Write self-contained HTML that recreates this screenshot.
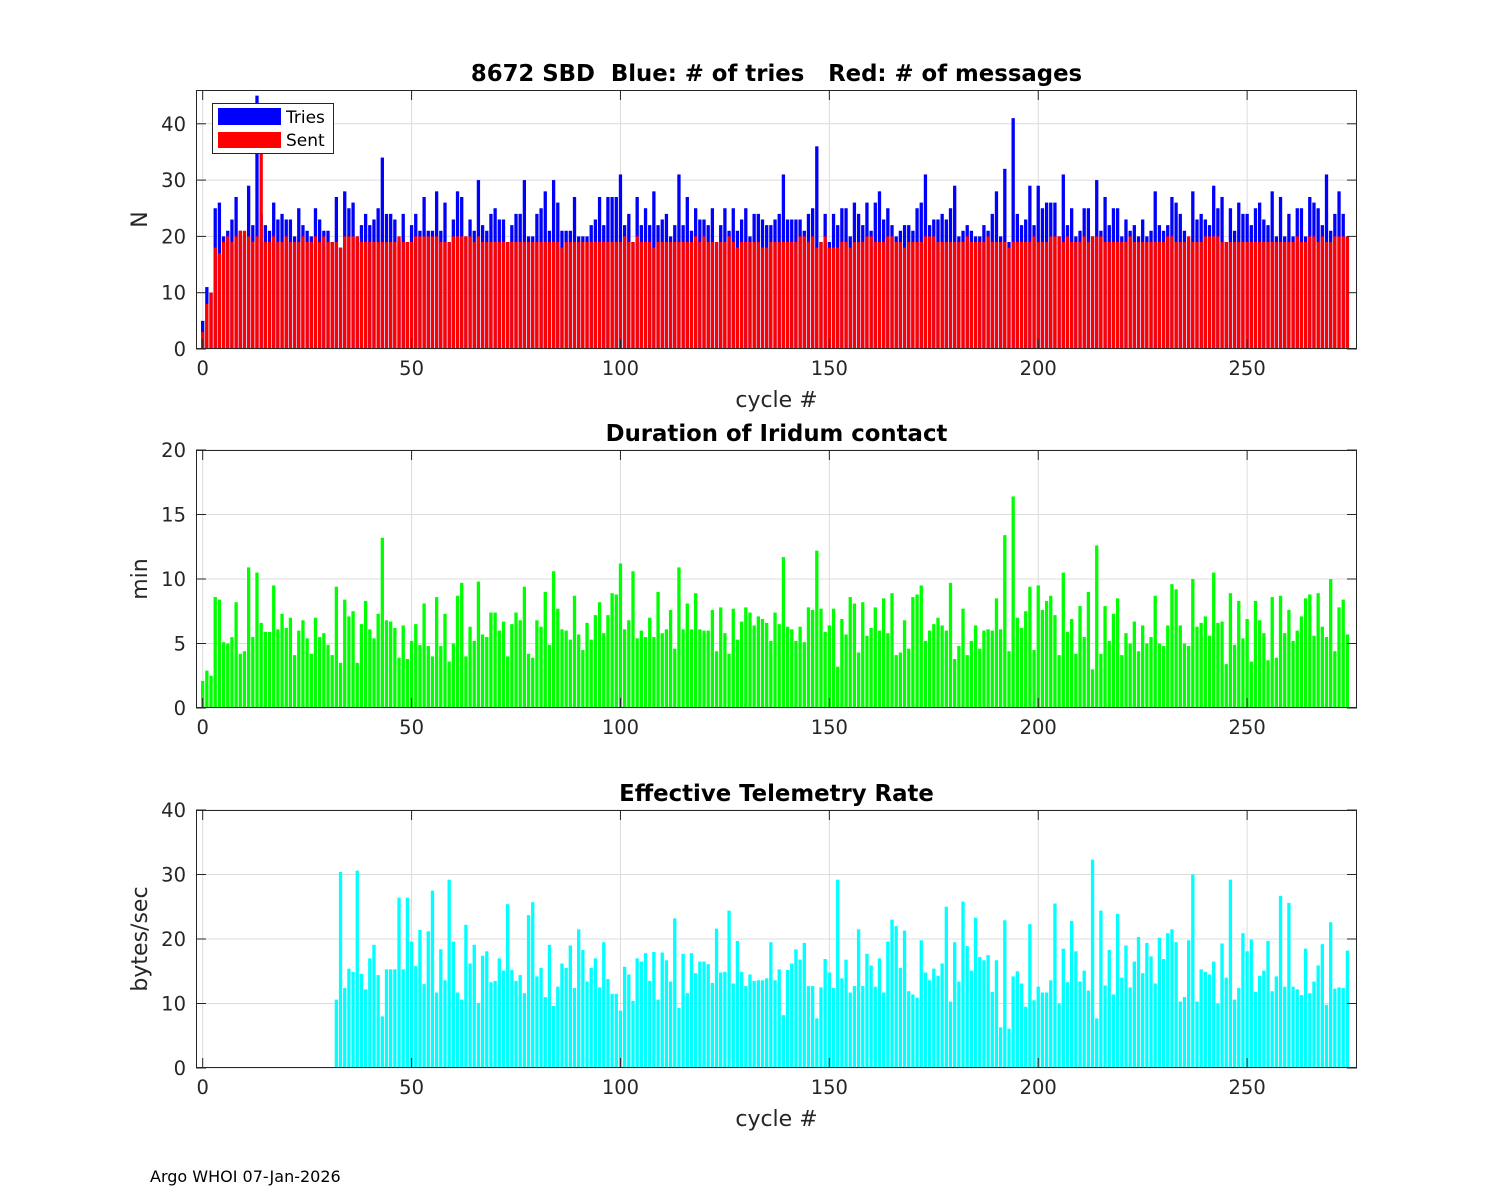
<!DOCTYPE html>
<html><head><meta charset="utf-8">
<style>
html,body{margin:0;padding:0;background:#fff;}
svg{display:block;font-family:"DejaVu Sans","Liberation Sans",sans-serif;}
</style></head>
<body>
<svg id="fig" width="1500" height="1200" viewBox="0 0 1500 1200"></svg>
<script>
const cycles = [];
for (let i = 0; i < 275; i++) cycles.push(i);
const triesValues = [5,11,10,25,26,20,21,23,27,21,20,29,22,45,24,22,21,26,23,24,23,23,20,25,22,21,20,25,23,21,21,19,27,18,28,25,26,20,22,24,22,23,25,34,24,24,23,19,24,19,22,24,21,27,21,21,28,21,26,19,23,28,27,20,23,21,30,22,21,24,25,23,23,19,22,24,24,30,20,20,24,25,28,21,30,26,21,21,21,27,20,20,20,22,23,27,22,27,27,27,
31,22,24,19,27,22,25,22,28,22,23,24,20,22,31,22,27,21,25,23,
23,22,25,19,22,25,21,25,21,23,25,20,24,24,23,22,22,23,24,31,
23,23,23,23,21,24,25,36,19,24,19,24,22,25,25,20,26,24,22,26,
21,26,28,23,25,22,20,21,22,22,21,25,26,31,22,23,23,24,23,25,29,
20,21,22,21,20,20,22,21,24,28,20,32,19,41,24,22,23,29,22,29,
25,26,26,26,20,31,22,25,20,21,25,25,20,30,21,27,22,25,25,20,
23,21,22,20,23,20,21,28,22,21,22,27,26,24,21,19,28,23,24,23,
22,29,25,27,19,25,21,26,24,24,22,25,26,23,22,28,20,27,20,24,
20,25,25,20,27,26,25,22,31,21,24,28,24,20];
const sentValues = [3,8,10,18,17,19,20,19,20,21,21,20,19,20,35,19,19,20,19,19,20,19,19,19,20,19,19,20,19,20,19,19,19,18,20,20,20,20,19,19,19,19,19,19,19,19,19,20,19,19,19,20,20,20,20,20,20,19,19,19,20,20,20,20,20,19,20,19,19,19,19,19,19,19,19,19,19,19,19,19,19,19,19,19,19,19,18,19,19,19,19,19,19,19,19,19,19,19,19,19,
19,20,19,19,20,19,19,19,18,19,19,19,19,19,19,19,19,19,20,19,
20,19,19,19,19,19,20,19,18,19,19,19,19,19,18,18,19,19,19,19,
19,19,19,20,20,19,20,18,19,20,18,18,18,19,19,18,19,19,19,20,
20,19,19,19,20,20,19,19,18,19,19,19,19,20,20,20,19,19,19,19,
19,19,19,20,19,19,19,19,20,19,19,19,19,18,19,19,19,19,19,20,
19,19,19,20,20,20,19,20,19,19,19,20,19,20,20,20,19,19,19,19,
19,19,20,19,19,19,19,19,19,19,19,20,20,19,19,19,20,19,19,19,
20,20,20,20,19,19,19,19,19,19,19,19,19,19,19,19,19,19,19,19,
19,19,20,19,19,20,20,19,20,19,19,20,20,20,20];
const durationValues = [2.1,2.9,2.5,8.6,8.4,5.1,5.0,5.5,8.2,4.2,4.4,10.9,5.5,10.5,6.6,5.9,5.9,9.5,6.1,7.3,6.2,7.0,4.1,6.0,6.8,5.4,4.2,7.0,5.5,5.8,4.9,4.1,9.4,3.5,8.4,7.1,7.5,3.5,6.5,8.3,6.1,5.4,7.3,13.2,6.8,6.7,6.2,3.9,6.4,3.8,5.2,6.5,4.9,8.1,4.8,4.0,8.6,4.8,7.3,3.6,5.0,8.7,9.7,4.0,6.3,5.2,9.8,5.7,5.5,7.4,7.4,6.0,6.7,4.0,6.5,7.4,6.8,9.4,4.2,3.9,6.8,6.3,9.0,4.9,10.6,7.7,6.1,6.0,5.3,8.7,5.7,4.5,6.6,5.3,7.2,8.2,5.8,7.2,8.9,8.8,
11.2,6.1,6.8,10.6,5.4,6.0,5.5,7.0,5.5,9.0,5.8,6.1,7.6,4.6,10.9,6.1,8.1,6.1,8.9,6.1,6.0,6.0,7.6,4.4,7.8,5.8,4.2,7.7,5.3,6.7,7.8,7.4,6.4,7.1,6.9,6.6,5.2,7.4,6.5,11.7,6.3,6.1,5.2,6.3,5.1,7.8,7.6,12.2,7.7,5.9,6.4,7.7,3.2,6.9,5.7,8.6,8.1,4.3,8.2,5.6,6.2,7.8,6.0,8.5,5.8,8.9,4.1,4.3,6.8,4.6,8.6,8.8,9.5,5.2,6.0,6.5,7.0,6.4,6.0,9.7,3.8,4.8,7.7,4.1,5.2,6.4,4.6,6.0,6.1,6.0,8.5,6.1,13.4,4.4,16.4,7.0,6.2,7.5,9.4,4.5,9.5,7.6,8.3,8.7,7.2,4.1,10.5,5.9,6.9,4.2,7.9,5.5,9.0,3.0,12.6,4.2,7.9,5.2,7.3,8.5,4.1,5.8,5.0,6.7,4.4,6.4,5.0,5.5,8.7,5.0,4.8,6.4,9.6,9.2,6.4,5.0,4.8,10.0,6.3,6.6,7.1,5.6,10.5,6.6,6.7,3.4,8.9,4.9,8.3,5.4,6.9,3.6,8.3,6.8,5.8,3.7,8.6,3.9,8.7,5.8,7.6,5.2,6.0,7.1,8.5,8.8,5.6,8.9,6.3,5.5,10.0,4.4,7.8,8.4,5.7];
const rateValues = [0,0,0,0,0,0,0,0,0,0,0,0,0,0,0,0,0,0,0,0,0,0,0,0,0,0,0,0,0,0,0,0,
10.6,30.4,12.4,15.4,14.9,30.6,14.6,12.2,17.0,19.1,14.4,8.0,15.3,15.3,15.3,26.4,15.3,26.4,19.6,15.8,21.4,13.0,21.2,27.5,11.7,18.4,13.6,29.2,19.6,11.7,10.6,22.2,16.2,19.1,10.1,17.4,18.1,13.3,13.5,17.0,15.1,25.4,15.2,13.5,14.4,11.6,23.7,25.7,14.2,15.5,11.0,19.1,9.6,12.6,16.2,15.5,19.0,12.4,21.5,18.3,13.4,15.5,17.0,12.5,19.5,13.8,11.5,11.5,8.9,15.7,14.5,10.4,17.0,16.5,17.8,13.5,18.0,10.6,17.9,16.7,13.4,23.2,9.3,17.7,11.6,17.8,14.7,16.5,16.5,16.1,13.2,21.6,14.8,14.9,24.4,13.1,19.7,14.9,12.7,14.5,13.5,13.6,13.6,13.9,19.5,13.6,15.3,8.2,15.2,16.2,18.4,16.8,19.4,12.7,12.7,7.7,12.5,16.9,14.8,12.4,29.2,13.9,16.8,11.7,12.7,21.5,12.7,17.7,15.9,12.6,17.0,11.7,19.6,23.0,22.0,15.5,21.3,11.9,11.4,10.9,19.8,14.8,13.6,15.4,14.3,16.2,25.0,10.3,19.5,13.4,25.8,18.9,15.1,23.3,17.2,16.7,17.5,11.8,16.7,6.3,22.9,6.1,14.2,15.0,13.1,9.5,22.3,10.5,12.6,11.7,11.7,13.6,25.5,10.0,18.5,13.3,22.8,18.1,13.4,15.1,12.0,32.3,7.7,24.4,12.8,18.3,11.4,23.9,14.0,19.0,12.5,16.5,20.3,14.7,19.4,17.3,13.1,20.2,16.9,20.9,21.5,19.5,10.3,11.0,19.8,30.0,10.3,15.3,14.9,14.5,16.5,10.0,19.3,14.0,29.2,10.6,12.4,20.9,18.1,19.9,11.8,14.3,15.1,19.7,11.9,14.2,26.7,12.6,25.6,12.6,12.2,11.3,18.5,11.6,13.4,15.9,19.2,9.8,22.6,12.3,12.5,12.4,18.2];
const xTicks = [0,50,100,150,200,250];
const yTicksTop = [0,10,20,30,40];
const yTicksMid = [0,5,10,15,20];
const yTicksBot = [0,10,20,30,40];

const NS = "http://www.w3.org/2000/svg";
const svg = document.getElementById('fig');
const X0 = 196, X1 = 1357, XMIN = -1.6, XMAX = 276.3;
function xs(v){ return X0 + (v - XMIN) / (XMAX - XMIN) * (X1 - X0); }
function mk(tag, attrs, parent){
  const e = document.createElementNS(NS, tag);
  for (const k in attrs) e.setAttribute(k, attrs[k]);
  (parent || svg).appendChild(e);
  return e;
}
function txt(s, attrs, parent){ const e = mk('text', attrs, parent); e.textContent = s; return e; }

function panel(name, top, bottom, ymax, yTicks, title, ylabel, xlabel){
  const g = mk('g', {});
  
  
  const ys = v => bottom - v / ymax * (bottom - top);
  mk('rect', {x:X0, y:top, width:X1-X0, height:bottom-top, fill:'#fff'}, g);
  xTicks.forEach(t => {
    const l = mk('line', {x1:xs(t), x2:xs(t), y1:top, y2:bottom, stroke:'#dcdcdc', 'stroke-width':1}, g);
    
    
  });
  yTicks.forEach(t => {
    const l = mk('line', {x1:X0, x2:X1, y1:ys(t), y2:ys(t), stroke:'#dcdcdc', 'stroke-width':1}, g);
    
    
  });
  const bars = mk('g', {}, g);
  
  
  const fr = mk('rect', {x:X0+0.5, y:top+0.5, width:X1-X0-1, height:bottom-top-1, fill:'none', stroke:'#262626', 'stroke-width':1}, g);
  
  
  xTicks.forEach(t => {
    mk('line', {x1:xs(t), x2:xs(t), y1:bottom, y2:bottom-10, stroke:'#262626'}, g);
    mk('line', {x1:xs(t), x2:xs(t), y1:top, y2:top+10, stroke:'#262626'}, g);
    const l = txt(String(t), {x:xs(t), y:bottom+26, 'text-anchor':'middle', 'font-size':19.5, fill:'#262626'}, g);
    
    
  });
  yTicks.forEach(t => {
    mk('line', {x1:X0, x2:X0+10, y1:ys(t), y2:ys(t), stroke:'#262626'}, g);
    mk('line', {x1:X1, x2:X1-10, y1:ys(t), y2:ys(t), stroke:'#262626'}, g);
    const l = txt(String(t), {x:X0-10, y:ys(t)+7, 'text-anchor':'end', 'font-size':19.5, fill:'#262626'}, g);
    
    
  });
  const tt = txt(title, {x:(X0+X1)/2, y:top-9, 'text-anchor':'middle', 'font-size':22.8, 'font-weight':'bold', fill:'#000', style:'white-space:pre'}, g);
  
  
  const yl = txt(ylabel, {x:0, y:0, 'text-anchor':'middle', 'font-size':22, fill:'#262626', transform:'translate(147,'+((top+bottom)/2)+') rotate(-90)'}, g);
  
  
  if (xlabel){
    const xl = txt(xlabel, {x:(X0+X1)/2, y:bottom+58, 'text-anchor':'middle', 'font-size':22, fill:'#262626'}, g);
    
    
  }
  return {bars, ys};
}

const BW = 3.3;
const p1 = panel('tries-panel', 90, 349, 46, yTicksTop, '8672 SBD  Blue: # of tries   Red: # of messages', 'N', 'cycle #');
cycles.forEach((c, i) => {
  const tv = triesValues[i] || 0, sv = sentValues[i] || 0;
  const b = mk('rect', {x:xs(c)-BW/2, y:p1.ys(tv), width:BW, height:349-p1.ys(tv), fill:'#0000ff'}, p1.bars);
  
  
  const r = mk('rect', {x:xs(c)-BW/2, y:p1.ys(sv), width:BW, height:349-p1.ys(sv), fill:'#ff0000'}, p1.bars);
  
  
});
const lg = mk('g', {});


mk('rect', {x:212.5, y:103.5, width:121, height:50, fill:'#fff', stroke:'#262626'}, lg);
mk('rect', {x:218, y:108, width:63, height:17, fill:'#0000ff'}, lg);
mk('rect', {x:218, y:132, width:63, height:16, fill:'#ff0000'}, lg);
const le1 = txt('Tries', {x:286, y:123, 'font-size':17, fill:'#000'}, lg);


const le2 = txt('Sent', {x:286, y:146, 'font-size':17, fill:'#000'}, lg);



const p2 = panel('duration-panel', 450, 708, 20, yTicksMid, 'Duration of Iridum contact', 'min', null);
cycles.forEach((c, i) => {
  const v = durationValues[i] || 0;
  const b = mk('rect', {x:xs(c)-BW/2, y:p2.ys(v), width:BW, height:708-p2.ys(v), fill:'#00ff00'}, p2.bars);
  
  
});

const p3 = panel('rate-panel', 810, 1068, 40, yTicksBot, 'Effective Telemetry Rate', 'bytes/sec', 'cycle #');
cycles.forEach((c, i) => {
  const v = rateValues[i] || 0;
  const b = mk('rect', {x:xs(c)-BW/2, y:p3.ys(v), width:BW, height:1068-p3.ys(v), fill:'#00ffff'}, p3.bars);
  
  
});

const ft = txt('Argo WHOI 07-Jan-2026', {x:150, y:1182, 'font-size':16, fill:'#000'});


</script>
</body></html>
